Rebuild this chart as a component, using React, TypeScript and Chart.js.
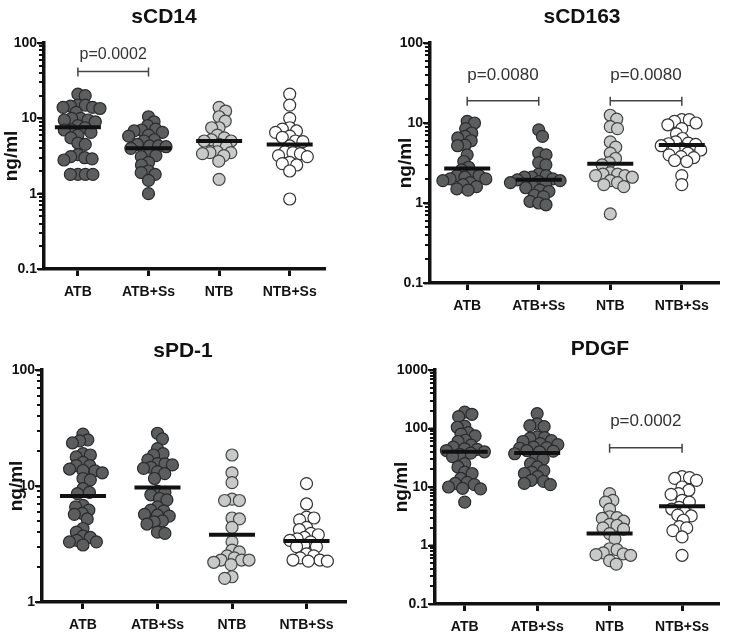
import React, { useEffect, useRef } from 'react';
import { Chart, registerables } from 'chart.js';

Chart.register(...registerables);

// ---------- data ----------
const categories = ['ATB', 'ATB+Ss', 'NTB', 'NTB+Ss'];
const tickLabels = ['0.1', '1', '10', '100', '1000'];

// sCD14 (ng/ml)
const sCD14_ATB = [21, 20, 15, 15, 14.5, 14, 14, 13.5, 12, 10, 10, 9.5, 9.5, 9, 8, 7.5, 7, 7, 6.5, 6, 5.5, 4.7, 4.5, 3.3, 3.1, 3, 2.9, 2.8, 1.8, 1.8, 1.8, 1.8];
const sCD14_ATBSs = [10.5, 9, 8, 7.2, 7, 6.8, 6.5, 6, 5.8, 5.2, 5, 4.5, 4.3, 4.3, 4.2, 4, 3.3, 3.2, 3.1, 2.6, 2.4, 2, 1.9, 1.8, 1.5, 1.0];
const sCD14_NTB = [14, 12.5, 10.5, 9.2, 7.5, 7.5, 6, 5.5, 5.2, 5, 5, 4.5, 4.2, 3.6, 3.5, 3.5, 3.4, 3.2, 2.7, 1.55];
const sCD14_NTBSs = [21, 15, 10, 7.5, 7.2, 6.8, 6.5, 5.8, 5.6, 5, 4.9, 4.3, 3.6, 3.5, 3.4, 3.2, 3.1, 2.6, 2.5, 2.4, 2, 0.85];
const sCD14_means = [7.6, 4.0, 5.0, 4.5];
const sCD14_brackets: [number, number, number, string][] = [[0, 1, 42, 'p=0.0002']];

// sCD163 (ng/ml)
const sCD163_ATB = [10.5, 10, 8.5, 7.5, 6.8, 6.5, 6, 5.3, 5.2, 4, 3.3, 2.8, 2.6, 2.3, 2.2, 2.2, 2.1, 2, 2, 1.9, 1.8, 1.7, 1.6, 1.5, 1.45];
const sCD163_ATBSs = [8.2, 6.8, 4.2, 4, 3.2, 3, 2.3, 2.2, 2.1, 2.1, 2, 1.95, 1.9, 1.85, 1.8, 1.7, 1.6, 1.55, 1.45, 1.4, 1.25, 1.2, 1.05, 1.0, 0.95];
const sCD163_NTB = [12.5, 11.2, 9, 8.5, 5.8, 5, 4.2, 3.6, 3.2, 3.0, 2.4, 2.3, 2.3, 2.2, 2.2, 2.1, 1.9, 1.8, 1.7, 1.6, 0.73];
const sCD163_NTBSs = [11, 11, 10.5, 10, 9.5, 8.5, 7.3, 6.4, 5.8, 5.6, 5.5, 5.4, 5.2, 4.8, 4.7, 4.6, 4.2, 4.0, 3.8, 3.7, 3.4, 3.3, 2.2, 1.7];
const sCD163_means = [2.7, 1.95, 3.1, 5.3];
const sCD163_brackets: [number, number, number, string][] = [[0, 1, 19, 'p=0.0080'], [2, 3, 19, 'p=0.0080']];

// sPD-1 (ng/ml)
const sPD1_ATB = [28, 25, 24.5, 23.5, 19, 18.5, 17.8, 16, 15, 15, 14, 13.6, 13.5, 13, 11.6, 11.3, 9.5, 8.8, 8.6, 6.8, 6.6, 6.2, 5.8, 5.7, 5.2, 4.3, 4.0, 3.7, 3.6, 3.4, 3.3, 3.3, 3.1];
const sPD1_ATBSs = [28.5, 25.5, 21, 19, 18.5, 16.8, 15.6, 15.5, 15.2, 14.5, 14.2, 13.3, 12.8, 11.6, 9, 8.8, 8.4, 7.8, 7.6, 6.6, 6.2, 6.1, 5.7, 5.6, 5.5, 5.0, 4.9, 4.7, 4.0, 3.9];
const sPD1_NTB = [18.5, 13, 10.7, 7.7, 7.5, 7.5, 5.3, 5.2, 4.4, 3.3, 2.8, 2.7, 2.5, 2.4, 2.3, 2.3, 2.3, 2.2, 2.1, 1.65, 1.6];
const sPD1_NTBSs = [10.5, 7, 5.4, 5.3, 5.1, 4.4, 4.2, 3.9, 3.8, 3.6, 3.5, 3.4, 3.3, 3.1, 3.0, 3.0, 2.6, 2.5, 2.4, 2.3, 2.3, 2.25, 2.25];
const sPD1_means = [8.2, 9.7, 3.8, 3.35];
const sPD1_brackets: [number, number, number, string][] = [];

// PDGF (ng/ml)
const PDGF_ATB = [190, 175, 160, 110, 105, 85, 80, 75, 63, 60, 52, 48, 45, 44, 42, 40, 38, 36, 33, 25, 22, 18, 17, 14, 12, 11.5, 11, 10, 9.5, 9.3, 5.5];
const PDGF_ATBSs = [180, 120, 112, 108, 72, 70, 68, 62, 60, 55, 53, 48, 47, 46, 42, 41, 40, 37, 31, 30, 25, 22, 19, 18, 17, 15, 13, 12.5, 11.5, 11];
const PDGF_NTB = [7.7, 5.9, 5.5, 4.2, 3.1, 3.0, 2.9, 2.6, 2.3, 2.2, 2.0, 1.9, 1.6, 1.3, 0.88, 0.85, 0.75, 0.72, 0.7, 0.68, 0.55, 0.48];
const PDGF_NTBSs = [15, 14.5, 14, 13, 10, 8.8, 7.7, 7.5, 5.9, 5.5, 4.5, 4.2, 3.7, 3.3, 3.2, 2.7, 2.1, 2.0, 1.8, 1.4, 0.68];
const PDGF_means = [40, 38, 1.6, 4.7];
const PDGF_brackets: [number, number, number, string][] = [[2, 3, 47, 'p=0.0002']];

// ---------- styling / layout ----------
const FONT = '"Liberation Sans", Arial, Helvetica, sans-serif';
const groupFill = ['#5b5e5f', '#5b5e5f', '#c8caca', '#ffffff'];
const groupBorder = ['#2a2a2a', '#2a2a2a', '#444444', '#333333'];

type PanelCfg = {
  title: string;
  groups: number[][];
  means: number[];
  brackets: [number, number, number, string][];
  yMin: number;
  yMax: number;
  box: { left: number; top: number; width: number; height: number };
  area: { left: number; top: number; right: number; bottom: number };
  xMin: number;
  xMax: number;
  titlePos: [number, number];
  yTitlePad: number;
  pFont: number;
  pGap: number;
};

const panels: PanelCfg[] = [
  {
    title: 'sCD14',
    groups: [sCD14_ATB, sCD14_ATBSs, sCD14_NTB, sCD14_NTBSs],
    means: sCD14_means, brackets: sCD14_brackets, yMin: 0.1, yMax: 100,
    box: { left: 0, top: 0, width: 373, height: 317 },
    area: { left: 44, top: 43, right: 325, bottom: 269 },
    xMin: -0.48, xMax: 3.5, titlePos: [164, 17], yTitlePad: 0, pFont: 16, pGap: 17,
  },
  {
    title: 'sCD163',
    groups: [sCD163_ATB, sCD163_ATBSs, sCD163_NTB, sCD163_NTBSs],
    means: sCD163_means, brackets: sCD163_brackets, yMin: 0.1, yMax: 100,
    box: { left: 373, top: 0, width: 373, height: 317 },
    area: { left: 57, top: 43, right: 367, bottom: 283 },
    xMin: -0.52, xMax: 3.52, titlePos: [209, 17], yTitlePad: 21, pFont: 17, pGap: 25,
  },
  {
    title: 'sPD-1',
    groups: [sPD1_ATB, sPD1_ATBSs, sPD1_NTB, sPD1_NTBSs],
    means: sPD1_means, brackets: sPD1_brackets, yMin: 1, yMax: 100,
    box: { left: 0, top: 317, width: 373, height: 317 },
    area: { left: 42, top: 53, right: 348, bottom: 285 },
    xMin: -0.55, xMax: 3.53, titlePos: [183, 34], yTitlePad: 5, pFont: 17, pGap: 25,
  },
  {
    title: 'PDGF',
    groups: [PDGF_ATB, PDGF_ATBSs, PDGF_NTB, PDGF_NTBSs],
    means: PDGF_means, brackets: PDGF_brackets, yMin: 0.1, yMax: 1000,
    box: { left: 373, top: 317, width: 373, height: 317 },
    area: { left: 62, top: 53, right: 370, bottom: 287 },
    xMin: -0.41, xMax: 3.51, titlePos: [227, 32], yTitlePad: 17, pFont: 17, pGap: 26,
  },
];

const DOT_R = 6;
const SWARM_D = 7.5;

// beeswarm: spread points of each group horizontally so they do not pile up
const beeswarmPlugin = {
  id: 'beeswarm',
  afterDatasetsUpdate(chart: any) {
    chart.data.datasets.forEach((ds: any, di: number) => {
      if (!ds.swarm) return;
      const pts = chart.getDatasetMeta(di).data;
      if (!pts.length) return;
      const cx = pts[0].x;
      const order = pts.map((_: any, i: number) => i).sort((a: number, b: number) => pts[a].y - pts[b].y);
      const placed: { x: number; y: number }[] = [];
      let flip = 1;
      for (const i of order) {
        const y = pts[i].y;
        const intervals: [number, number][] = [];
        for (const q of placed) {
          const dy = Math.abs(q.y - y);
          if (dy < SWARM_D) {
            const dx = Math.sqrt(SWARM_D * SWARM_D - dy * dy);
            intervals.push([q.x - dx, q.x + dx]);
          }
        }
        const cands = [cx];
        intervals.forEach(([a, b]) => cands.push(a, b));
        cands.sort((a, b) => {
          const d = Math.abs(a - cx) - Math.abs(b - cx);
          if (Math.abs(d) > 0.01) return d;
          return flip * (a - b);
        });
        let x = cx;
        for (const c of cands) {
          if (intervals.every(([a, b]) => c <= a + 1e-6 || c >= b - 1e-6)) { x = c; break; }
        }
        flip = -flip;
        pts[i].x = x;
        placed.push({ x, y });
      }
    });
  },
};

// minor (and major) log tick marks on the y axis, placed through the y scale
const logTickPlugin = {
  id: 'logTicks',
  afterDraw(chart: any) {
    const { ctx, chartArea } = chart;
    const y = chart.scales.y;
    const left = chartArea.left;
    const e0 = Math.round(Math.log10(y.min));
    const e1 = Math.round(Math.log10(y.max));
    ctx.save();
    ctx.strokeStyle = '#111';
    ctx.lineWidth = 2;
    for (let e = e0; e <= e1; e++) {
      for (let k = 1; k < 10; k++) {
        const v = k * Math.pow(10, e);
        if (v > y.max * 1.0001) break;
        const py = Math.round(y.getPixelForValue(v)) + 0.0;
        const len = k === 1 ? 7 : 5;
        ctx.beginPath();
        ctx.moveTo(left - len, py);
        ctx.lineTo(left, py);
        ctx.stroke();
      }
    }
    ctx.restore();
  },
};

function buildConfig(p: PanelCfg): any {
  const dotSets = p.groups.map((vals, gi) => ({
    type: 'scatter',
    swarm: true,
    data: vals.map((v) => ({ x: gi, y: v })),
    pointRadius: DOT_R,
    pointBackgroundColor: groupFill[gi],
    pointBorderColor: groupBorder[gi],
    pointBorderWidth: 1.2,
    order: 1,
    clip: false,
  }));
  const meanSet = {
    type: 'scatter',
    data: p.means.map((m, gi) => ({ x: gi, y: m })),
    pointStyle: 'line',
    pointRadius: 23,
    pointBorderWidth: 4,
    pointBorderColor: '#111111',
    pointBackgroundColor: '#111111',
    order: 0,
    clip: false,
  };

  const titlePlugin = {
    id: 'panelTitle',
    afterDraw(chart: any) {
      const ctx = chart.ctx;
      ctx.save();
      ctx.fillStyle = '#111';
      ctx.font = `bold 21px ${FONT}`;
      ctx.textAlign = 'center';
      ctx.textBaseline = 'middle';
      ctx.fillText(p.title, p.titlePos[0], p.titlePos[1]);
      ctx.restore();
    },
  };

  const bracketPlugin = {
    id: 'pBrackets',
    afterDraw(chart: any) {
      const { ctx, scales } = chart;
      p.brackets.forEach(([a, b, v, label]) => {
        const x1 = scales.x.getPixelForValue(a);
        const x2 = scales.x.getPixelForValue(b);
        const py = scales.y.getPixelForValue(v);
        ctx.save();
        ctx.strokeStyle = '#444';
        ctx.lineWidth = 1.5;
        ctx.beginPath();
        ctx.moveTo(x1, py); ctx.lineTo(x2, py);
        ctx.moveTo(x1, py - 4); ctx.lineTo(x1, py + 5);
        ctx.moveTo(x2, py - 4); ctx.lineTo(x2, py + 5);
        ctx.stroke();
        ctx.fillStyle = '#333';
        ctx.font = `${p.pFont}px ${FONT}`;
        ctx.textAlign = 'center';
        ctx.textBaseline = 'middle';
        ctx.fillText(label, (x1 + x2) / 2, py - p.pGap);
        ctx.restore();
      });
    },
  };

  return {
    type: 'scatter',
    data: { datasets: [meanSet, ...dotSets] },
    plugins: [beeswarmPlugin, logTickPlugin, bracketPlugin, titlePlugin],
    options: {
      animation: false,
      responsive: false,
      events: [],
      layout: {
        padding: { left: 0, top: p.area.top, right: p.box.width - p.area.right, bottom: 0 },
      },
      plugins: { legend: { display: false }, tooltip: { enabled: false }, title: { display: false } },
      scales: {
        x: {
          type: 'linear',
          min: p.xMin,
          max: p.xMax,
          afterBuildTicks: (scale: any) => {
            scale.ticks = categories.map((_, i) => ({ value: i }));
          },
          afterFit: (scale: any) => { scale.height = p.box.height - p.area.bottom; },
          ticks: {
            autoSkip: false,
            source: 'data',
            maxRotation: 0,
            padding: 8,
            color: '#111',
            font: { family: FONT, size: 14, weight: 'bold' },
            callback: (v: number) => categories[Math.round(v)] ?? '',
          },
          grid: { display: true, drawOnChartArea: false, tickLength: 7, tickWidth: 3, tickColor: '#111' },
          border: { display: true, width: 3.5, color: '#111' },
        },
        y: {
          type: 'logarithmic',
          min: p.yMin,
          max: p.yMax,
          afterBuildTicks: (scale: any) => {
            const t: { value: number }[] = [];
            const e0 = Math.round(Math.log10(p.yMin));
            const e1 = Math.round(Math.log10(p.yMax));
            for (let e = e0; e <= e1; e++) t.push({ value: Number(Math.pow(10, e).toPrecision(4)) });
            scale.ticks = t;
          },
          afterFit: (scale: any) => { scale.width = p.area.left; },
          ticks: {
            autoSkip: false,
            source: 'data',
            padding: 1,
            color: '#111',
            font: { family: FONT, size: 14, weight: 'bold' },
            callback: (v: number) => tickLabels.find((l) => Math.abs(Number(l) - v) < 1e-9) ?? '',
          },
          grid: { display: true, drawOnChartArea: false, tickLength: 6, tickWidth: 2, tickColor: '#111' },
          border: { display: true, width: 3.5, color: '#111' },
          title: {
            display: true,
            text: 'ng/ml',
            color: '#111',
            font: { family: FONT, size: 19, weight: 'bold' },
            padding: { top: p.yTitlePad, bottom: 0 },
          },
        },
      },
    },
  };
}

function Panel({ cfg }: { cfg: PanelCfg }) {
  const ref = useRef<HTMLCanvasElement>(null);
  useEffect(() => {
    const chart = new Chart(ref.current as HTMLCanvasElement, buildConfig(cfg));
    return () => chart.destroy();
  }, [cfg]);
  return (
    <canvas
      ref={ref}
      width={cfg.box.width}
      height={cfg.box.height}
      style={{ position: 'absolute', left: cfg.box.left, top: cfg.box.top, width: cfg.box.width, height: cfg.box.height }}
    />
  );
}

export default function App() {
  return (
    <div style={{ position: 'absolute', left: 0, top: 0, width: 746, height: 634, background: '#fff', overflow: 'hidden' }}>
      {panels.map((p) => (
        <Panel key={p.title} cfg={p} />
      ))}
    </div>
  );
}
